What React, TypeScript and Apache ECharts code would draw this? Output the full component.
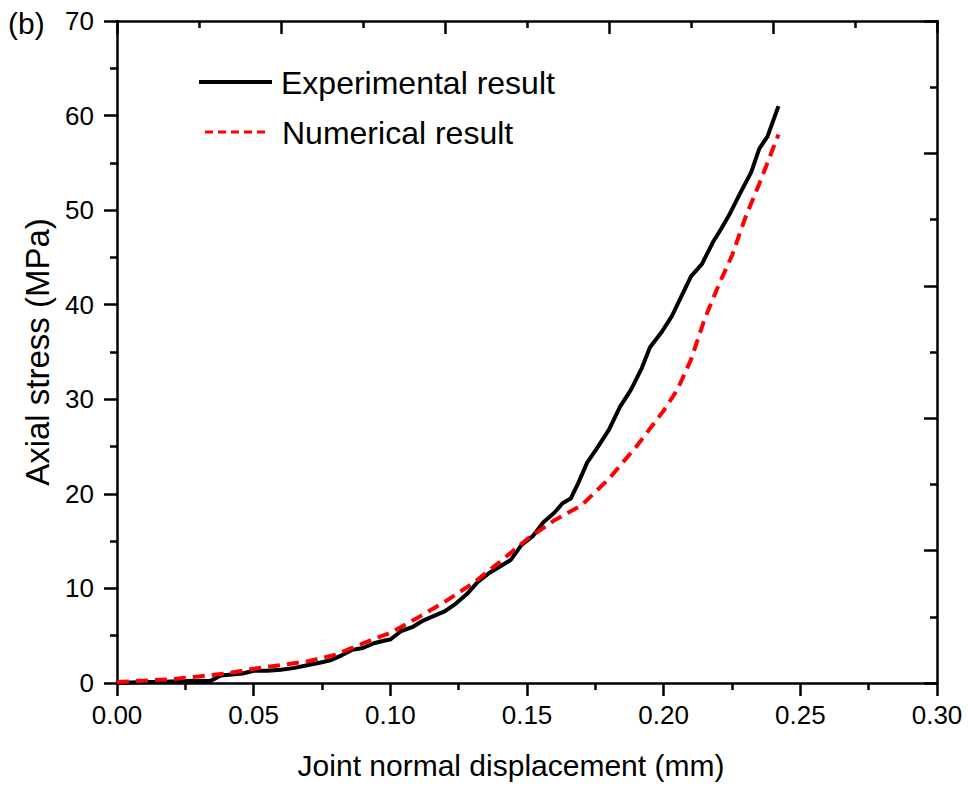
import React, { useEffect, useRef } from "react";
import * as echarts from "echarts";

const expX = [0.0, 0.005, 0.01, 0.015, 0.02, 0.025, 0.03, 0.034, 0.038, 0.042, 0.046, 0.05, 0.055, 0.06, 0.065, 0.07, 0.075, 0.078, 0.082, 0.086, 0.09, 0.094, 0.098, 0.1, 0.104, 0.108, 0.112, 0.116, 0.12, 0.124, 0.128, 0.132, 0.136, 0.14, 0.144, 0.148, 0.152, 0.156, 0.16, 0.163, 0.166, 0.169, 0.172, 0.176, 0.18, 0.184, 0.188, 0.192, 0.195, 0.199, 0.203, 0.207, 0.21, 0.214, 0.218, 0.221, 0.224, 0.228, 0.232, 0.235, 0.238, 0.242];
const expY = [0.0, 0.05, 0.1, 0.1, 0.15, 0.2, 0.25, 0.2, 0.8, 0.9, 1.0, 1.3, 1.3, 1.4, 1.6, 1.9, 2.2, 2.4, 2.9, 3.5, 3.7, 4.2, 4.5, 4.6, 5.5, 5.9, 6.6, 7.1, 7.6, 8.4, 9.4, 10.7, 11.6, 12.3, 13.0, 14.6, 15.5, 17.0, 18.0, 19.0, 19.5, 21.3, 23.3, 25.0, 26.8, 29.2, 31.0, 33.3, 35.5, 37.0, 38.8, 41.2, 43.0, 44.3, 46.6, 48.0, 49.5, 51.8, 54.0, 56.5, 57.8, 61.0];

const numX = [0.0, 0.01, 0.02, 0.03, 0.04, 0.05, 0.06, 0.07, 0.08, 0.09, 0.1, 0.11, 0.12, 0.13, 0.14, 0.15, 0.16, 0.17, 0.18, 0.19, 0.2, 0.205, 0.21, 0.215, 0.22, 0.225, 0.23, 0.235, 0.242];
const numY = [0.1, 0.25, 0.4, 0.7, 1.0, 1.5, 1.9, 2.3, 3.0, 4.2, 5.3, 6.9, 8.6, 10.5, 12.8, 15.2, 17.2, 18.8, 21.6, 25.0, 28.8, 31.0, 34.2, 38.5, 42.0, 45.2, 49.3, 52.8, 58.0];

const seriesNames = ["Experimental result", "Numerical result"];
const xTitle = "Joint normal displacement (mm)";
const yTitle = "Axial stress (MPa)";
const panelLabel = "(b)";

const FONT = "'Liberation Sans', Arial, Helvetica, sans-serif";

export default function App() {
  const ref = useRef<HTMLDivElement>(null);
  useEffect(() => {
    if (!ref.current) return;
    const chart = echarts.init(ref.current, undefined, { renderer: "svg" });
    const axisLine = { show: true, onZero: false, lineStyle: { color: "#000", width: 2.5 } };
    const option: any = {
      animation: false,
      backgroundColor: "#fff",
      textStyle: { fontFamily: FONT },
      grid: { left: 117, right: 31, top: 21, bottom: 109, containLabel: false },
      xAxis: [
        {
          type: "value",
          min: 0,
          max: 0.3,
          interval: 0.05,
          position: "bottom",
          axisLine,
          axisTick: { show: true, inside: false, length: 13, lineStyle: { color: "#000", width: 2.5 } },
          minorTick: { show: true, splitNumber: 2, length: 7, lineStyle: { color: "#000", width: 2.5 } },
          splitLine: { show: false },
          minorSplitLine: { show: false },
          axisLabel: {
            margin: 19,
            fontSize: 26,
            color: "#000",
            fontFamily: FONT,
            formatter: (v: number) => v.toFixed(2),
          },
          name: xTitle,
          nameLocation: "middle",
          nameGap: 67,
          nameTextStyle: { fontSize: 30, color: "#000", fontFamily: FONT, padding: [0, 32, 0, 0] },
        },
        {
          type: "value",
          min: 0,
          max: 10,
          interval: 2,
          position: "top",
          axisLine,
          axisTick: { show: true, inside: true, length: 13, lineStyle: { color: "#000", width: 2.5 } },
          minorTick: { show: true, splitNumber: 2, length: 7, lineStyle: { color: "#000", width: 2.5 } },
          splitLine: { show: false },
          axisLabel: { show: false },
        },
      ],
      yAxis: [
        {
          type: "value",
          min: 0,
          max: 70,
          interval: 10,
          position: "left",
          axisLine,
          axisTick: { show: true, inside: false, length: 13, lineStyle: { color: "#000", width: 2.5 } },
          minorTick: { show: true, splitNumber: 2, length: 7, lineStyle: { color: "#000", width: 2.5 } },
          splitLine: { show: false },
          minorSplitLine: { show: false },
          axisLabel: { margin: 23, fontSize: 26, color: "#000", fontFamily: FONT },
          name: yTitle,
          nameLocation: "middle",
          nameGap: 58,
          nameRotate: 90,
          nameTextStyle: { fontSize: 33, color: "#000", fontFamily: FONT },
        },
        {
          type: "value",
          min: 0,
          max: 10,
          interval: 2,
          position: "right",
          axisLine,
          axisTick: { show: true, inside: true, length: 13, lineStyle: { color: "#000", width: 2.5 } },
          minorTick: { show: true, splitNumber: 2, length: 7, lineStyle: { color: "#000", width: 2.5 } },
          splitLine: { show: false },
          axisLabel: { show: false },
        },
      ],
      series: [
        {
          name: seriesNames[0],
          type: "line",
          xAxisIndex: 0,
          yAxisIndex: 0,
          showSymbol: false,
          symbol: "none",
          data: expX.map((x, i) => [x, expY[i]]),
          lineStyle: { color: "#000", width: 4, join: "round" },
          z: 3,
        },
        {
          name: seriesNames[1],
          type: "line",
          xAxisIndex: 0,
          yAxisIndex: 0,
          showSymbol: false,
          symbol: "none",
          data: numX.map((x, i) => [x, numY[i]]),
          lineStyle: { color: "#ff0000", width: 4, type: [12, 7] },
          z: 4,
        },
      ],
      graphic: [
        {
          type: "text",
          left: 8,
          top: 8,
          style: { text: panelLabel, fontSize: 30, fill: "#000", fontFamily: FONT },
        },
        {
          type: "line",
          shape: { x1: 199, y1: 82, x2: 272, y2: 82 },
          style: { stroke: "#000", lineWidth: 4 },
        },
        {
          type: "text",
          x: 281,
          y: 83,
          style: {
            text: seriesNames[0],
            fontSize: 32,
            fill: "#000",
            fontFamily: FONT,
            verticalAlign: "middle",
            align: "left",
          },
        },
        {
          type: "line",
          shape: { x1: 205, y1: 132, x2: 266, y2: 132 },
          style: { stroke: "#ff0000", lineWidth: 3, lineDash: [8, 5] },
        },
        {
          type: "text",
          x: 282,
          y: 133,
          style: {
            text: seriesNames[1],
            fontSize: 32,
            fill: "#000",
            fontFamily: FONT,
            verticalAlign: "middle",
            align: "left",
          },
        },
      ],
    };
    chart.setOption(option);
    return () => chart.dispose();
  }, []);
  return (
    <div
      ref={ref}
      style={{ position: "fixed", left: 0, top: 0, width: 968, height: 792, background: "#fff" }}
    />
  );
}
